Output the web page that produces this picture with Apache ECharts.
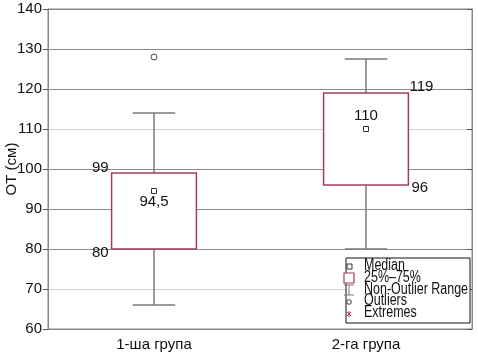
<!DOCTYPE html>
<html>
<head>
<meta charset="utf-8">
<script src="https://cdn.jsdelivr.net/npm/echarts@6/dist/echarts.min.js"></script>
<style>
  html, body { margin: 0; padding: 0; background: #fff; }
  #chart { width: 478px; height: 354px; }
</style>
</head>
<body>
<div id="chart"></div>
<script>
// значения
const categories = ['1-ша група', '2-га група'];
const whiskerLow = [66, 80];
const q1 = [80, 96];
const median = [94.5, 110];
const q3 = [99, 119];
const whiskerHigh = [114, 127.5];
const outliers = [[0, 128]];
const yTicks = { min: 60, max: 140, step: 10 };

const chart = echarts.init(document.getElementById('chart'));

const FONT = '"Liberation Sans", Arial, sans-serif';
const BOX = '#a23c5e';
const WHISK = '#7a7a7a';

const fmt = (v) => String(v).replace('.', ',');

const boxData = categories.map((c, i) => [i, whiskerLow[i], q1[i], median[i], q3[i], whiskerHigh[i]]);

function renderBox(params, api) {
  const idx = api.value(0);
  const pLow = api.coord([idx, api.value(1)]);
  const pQ1 = api.coord([idx, api.value(2)]);
  const pMed = api.coord([idx, api.value(3)]);
  const pQ3 = api.coord([idx, api.value(4)]);
  const pHigh = api.coord([idx, api.value(5)]);
  const band = api.size([1, 0])[0];
  const half = band * 0.2;
  const cap = band * 0.1;
  const cx = pMed[0];
  const onLeft = idx === 0;
  const txt = (text, x, y, align) => ({
    type: 'text',
    z2: 10,
    style: { text, x, y, align, verticalAlign: 'middle', font: '15px ' + FONT, fill: '#111' }
  });

  return {
    type: 'group',
    children: [
      // усы
      { type: 'line', shape: { x1: cx, y1: pHigh[1], x2: cx, y2: pQ3[1] }, style: { stroke: WHISK, lineWidth: 1.5 } },
      { type: 'line', shape: { x1: cx, y1: pQ1[1], x2: cx, y2: pLow[1] }, style: { stroke: WHISK, lineWidth: 1.5 } },
      { type: 'line', shape: { x1: cx - cap, y1: pHigh[1], x2: cx + cap, y2: pHigh[1] }, style: { stroke: WHISK, lineWidth: 1.5 } },
      { type: 'line', shape: { x1: cx - cap, y1: pLow[1], x2: cx + cap, y2: pLow[1] }, style: { stroke: WHISK, lineWidth: 1.5 } },
      // ящик 25–75%
      {
        type: 'rect',
        shape: { x: cx - half, y: pQ3[1], width: half * 2, height: pQ1[1] - pQ3[1] },
        style: { fill: '#fff', stroke: BOX, lineWidth: 1.5 }
      },
      // медиана — квадратик
      {
        type: 'rect',
        shape: { x: cx - 2.5, y: pMed[1] - 2.5, width: 5, height: 5 },
        style: { fill: '#fff', stroke: '#333', lineWidth: 1 }
      },
      onLeft
        ? txt(fmt(api.value(4)), cx - half - 3, pQ3[1] - 5, 'right')
        : txt(fmt(api.value(4)), cx + half + 1, pQ3[1] - 6, 'left'),
      onLeft
        ? txt(fmt(api.value(2)), cx - half - 3, pQ1[1] + 4, 'right')
        : txt(fmt(api.value(2)), cx + half + 3, pQ1[1] + 3, 'left'),
      onLeft
        ? txt(fmt(api.value(3)), cx, pMed[1] + 11, 'center')
        : txt(fmt(api.value(3)), cx, pMed[1] - 13, 'center')
    ]
  };
}

// легенда рисуется вручную (узкий шрифт — через scaleX)
const LX = 346, LY = 258;
const rows = ['Median', '25%–75%', 'Non-Outlier Range', 'Outliers', 'Extremes'];
const rowY = [266, 278, 290, 301, 313];
const legend = [
  { type: 'rect', shape: { x: LX, y: LY, width: 124, height: 65 }, style: { fill: '#fff', stroke: '#111', lineWidth: 1 } },
  { type: 'rect', shape: { x: 347, y: rowY[0] - 2, width: 5, height: 5 }, style: { fill: '#fff', stroke: '#333', lineWidth: 1 } },
  { type: 'rect', shape: { x: 344, y: rowY[1] - 5, width: 10, height: 10 }, style: { fill: '#fff', stroke: BOX, lineWidth: 1.2 } },
  { type: 'line', shape: { x1: 349, y1: rowY[2] - 5, x2: 349, y2: rowY[2] + 5 }, style: { stroke: WHISK, lineWidth: 1 } },
  { type: 'line', shape: { x1: 344, y1: rowY[2] + 5, x2: 354, y2: rowY[2] + 5 }, style: { stroke: WHISK, lineWidth: 1 } },
  { type: 'line', shape: { x1: 344, y1: rowY[2] - 5, x2: 354, y2: rowY[2] - 5 }, style: { stroke: WHISK, lineWidth: 1 } },
  { type: 'circle', shape: { cx: 349, cy: rowY[3] + 1, r: 2.3 }, style: { fill: '#fff', stroke: '#333', lineWidth: 1 } },
  { type: 'line', shape: { x1: 347, y1: rowY[4] - 1, x2: 351, y2: rowY[4] + 3 }, style: { stroke: '#c0304a', lineWidth: 1 } },
  { type: 'line', shape: { x1: 351, y1: rowY[4] - 1, x2: 347, y2: rowY[4] + 3 }, style: { stroke: '#c0304a', lineWidth: 1 } },
  { type: 'line', shape: { x1: 349, y1: rowY[4] - 2, x2: 349, y2: rowY[4] + 4 }, style: { stroke: '#c0304a', lineWidth: 1 } }
].concat(rows.map((r, i) => ({
  type: 'text',
  x: 364,
  y: rowY[i],
  scaleX: 0.78,
  style: { text: r, x: 0, y: 0, verticalAlign: 'middle', font: '16px ' + FONT, fill: '#111' }
})));

const option = {
  animation: false,
  grid: { left: 48, right: 6, top: 9, bottom: 25, outerBoundsMode: 'none', show: true, borderColor: '#888', borderWidth: 1 },
  xAxis: [
    {
      type: 'category',
      data: categories,
      axisLine: { lineStyle: { color: '#888' } },
      axisTick: { inside: true, alignWithLabel: true, length: 5, lineStyle: { color: '#555' } },
      axisLabel: { color: '#111', fontFamily: FONT, fontSize: 15, margin: 8 },
      splitLine: { show: false }
    },
    {
      type: 'category',
      position: 'top',
      data: categories,
      axisLine: { lineStyle: { color: '#888' } },
      axisTick: { inside: true, alignWithLabel: true, length: 5, lineStyle: { color: '#555' } },
      axisLabel: { show: false }
    }
  ],
  yAxis: [
    {
      type: 'value',
      min: yTicks.min,
      max: yTicks.max,
      interval: yTicks.step,
      name: 'ОТ (см)',
      nameLocation: 'middle',
      nameGap: 29,
      nameMoveOverlap: false,
      nameRotate: 90,
      nameTextStyle: { color: '#111', fontFamily: FONT, fontSize: 15 },
      axisLine: { show: true, lineStyle: { color: '#888' } },
      axisTick: { show: true, length: 5, lineStyle: { color: '#555' } },
      axisLabel: { color: '#111', fontFamily: FONT, fontSize: 15, margin: 6 },
      splitLine: { show: true, lineStyle: { color: ['#8c8c8c', '#d2d2d2', '#8c8c8c', '#8c8c8c'], width: 1 } }
    },
    {
      type: 'value',
      position: 'right',
      min: yTicks.min,
      max: yTicks.max,
      interval: yTicks.step,
      axisLine: { show: true, lineStyle: { color: '#888' } },
      axisTick: { show: true, inside: true, length: 5, lineStyle: { color: '#555' } },
      axisLabel: { show: false },
      splitLine: { show: false }
    }
  ],
  series: [
    {
      type: 'custom',
      renderItem: renderBox,
      data: boxData,
      encode: { x: 0, y: [1, 2, 3, 4, 5] },
      z: 3
    },
    {
      type: 'scatter',
      data: outliers,
      symbol: 'circle',
      symbolSize: 6,
      itemStyle: { color: '#fff', borderColor: '#222', borderWidth: 1 },
      z: 4
    }
  ],
  graphic: { elements: legend.map((e) => Object.assign({ z: 100 }, e)) }
};

chart.setOption(option);
</script>
</body>
</html>
